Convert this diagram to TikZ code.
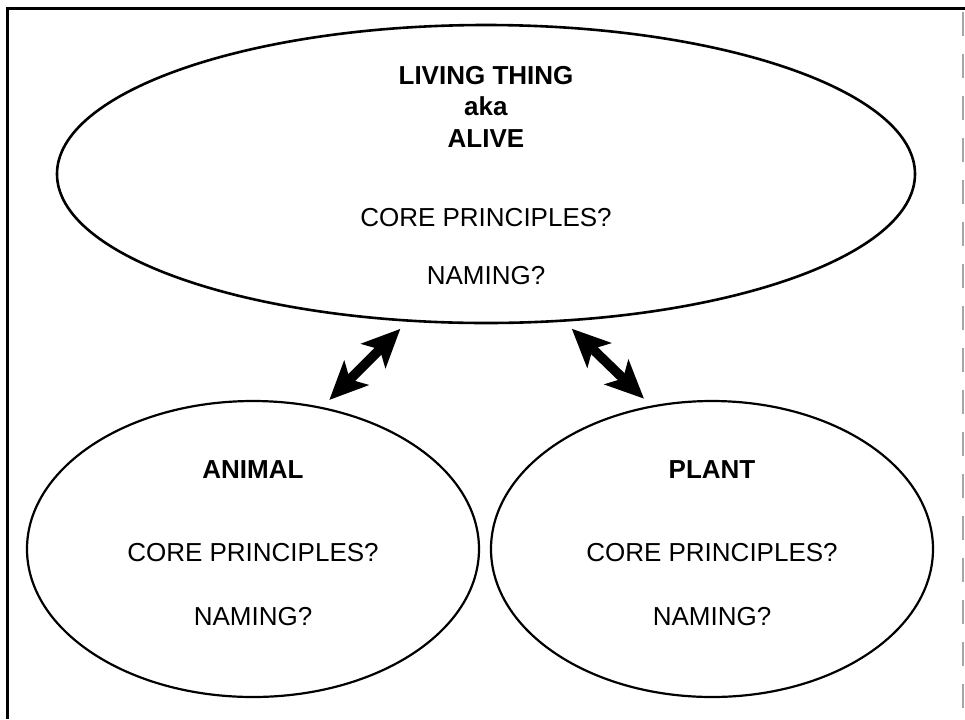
\documentclass[tikz,border=0pt]{standalone}
\usepackage{fontspec}
\setmainfont{Liberation Sans}
\usetikzlibrary{arrows.meta,shapes.geometric,positioning}
\tikzset{
  bubble/.style={ellipse,draw,line width=1.1pt,inner sep=0pt},
  bigbubble/.style={bubble,line width=1.3pt,minimum width=429pt,minimum height=149pt},
  smallbubble/.style={bubble,minimum width=226pt,minimum height=148pt},
  bubbletext/.style={align=center,inner sep=0pt,font=\fontsize{13}{15.75}\selectfont},
  fatstealth/.tip={Stealth[length=19pt,width=17pt,inset=4.5pt]},
  dblarrow/.style={line width=4.8pt,fatstealth-fatstealth,shorten <=5pt,shorten >=5pt},
  frameline/.style={line width=1.5pt},
  pageedge/.style={black!35,line width=0.8pt,dash pattern=on 12pt off 9pt}
}

\begin{document}
\begin{tikzpicture}[x=0.5pt,y=-0.5pt]
  \useasboundingbox (0,0) rectangle (965,719);
  % frame round the figure
  \draw[frameline] (7,719) -- (7,8) -- (965,8);
  \draw[pageedge] (963,12) -- (963,719);

  \node[bigbubble] (alive) at (486,174) {};
  \node[smallbubble] (animal) at (253,549) {};
  \node[smallbubble,minimum width=221pt] (plant) at (712,549) {};

  \node[bubbletext,yshift=-0.75pt] (alivetext) at (alive)
    {\textbf{LIVING THING}\\\textbf{aka}\\\textbf{ALIVE}\\[23.75pt]CORE PRINCIPLES?\\[13.25pt]NAMING?};
  \node[bubbletext,yshift=3pt] (animaltext) at (animal)
    {\textbf{ANIMAL}\\[25.75pt]CORE PRINCIPLES?\\[16.25pt]NAMING?};
  \node[bubbletext,yshift=3pt] (planttext) at (plant)
    {\textbf{PLANT}\\[25.75pt]CORE PRINCIPLES?\\[16.25pt]NAMING?};

  \path[dblarrow]
    (alive.242) edge (animal.64)
    (alive.298) edge (plant.113);
\end{tikzpicture}
\end{document}
